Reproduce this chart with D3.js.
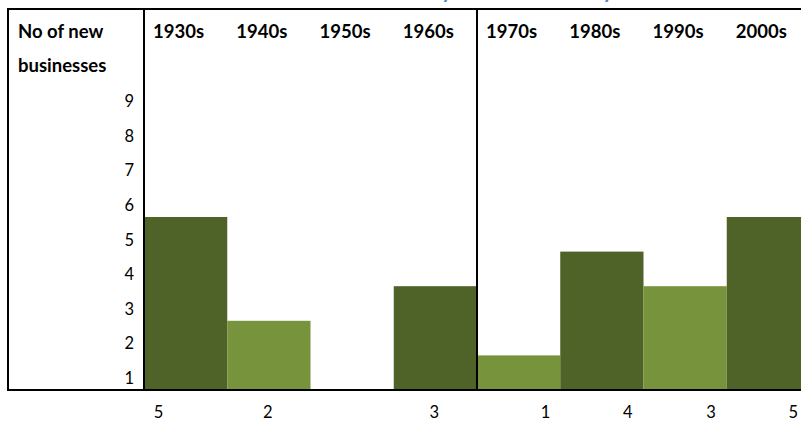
<!DOCTYPE html>
<html>
<head>
<meta charset="utf-8">
<script src="https://cdn.jsdelivr.net/npm/d3@7"></script>
<style>
	body { margin: 0; background: #ffffff; }
	svg { display: block; }
	.text_class_head { font-family: Lato, "Open Sans", sans-serif; font-weight: bold; font-size: 18.5px; fill: #000000; }
	.text_class_tick { font-family: Lato, "Open Sans", sans-serif; font-size: 16.5px; fill: #000000; }
</style>
</head>
<body>
<div id="div_id_main"></div>
<script>

// ---- data ----
let g_vDecades = ["1930s", "1940s", "1950s", "1960s", "1970s", "1980s", "1990s", "2000s"];
let g_vBusinesses = [5, 2, 0, 3, 1, 4, 3, 5];
let g_vRowTicks = [1, 2, 3, 4, 5, 6, 7, 8, 9];
let g_vAxisTitle = ["No of new", "businesses"];
let g_sTitle = "Number of new businesses by decade in the city";

// ---- layout ----
const WIDTH = 801;
const HEIGHT = 421;
const TABLE_LEFT = 8;
const TABLE_TOP = 9;
const PLOT_LEFT = 144;
const PLOT_BOTTOM = 390;
const COL_WIDTH = 83.25;
const ROW_HEIGHT = 34.6;

const COLOR_DARK = "#4F6228";
const COLOR_LIGHT = "#77933C";

// value row under the table is not lined up with the columns
let vLabelShift = [-27, -1, 0, -1, 27, 26, 26, 25];

function funcDraw_Main() {

	let svgMain = d3.select("#div_id_main")
					.append("svg")
						.attr("id", "svg_id_main")
						.attr("width", WIDTH)
						.attr("height", HEIGHT);

	let fScale_X = d3.scaleBand()
						.domain(g_vDecades)
						.range([PLOT_LEFT, PLOT_LEFT + COL_WIDTH * g_vDecades.length])
						.padding(0);

	let fScale_Y = d3.scaleLinear()
						.domain([0, 10])
						.range([PLOT_BOTTOM, PLOT_BOTTOM - ROW_HEIGHT * 10]);

	// title, mostly cut off above the picture
	svgMain.append("text")
				.attr("x", WIDTH / 2)
				.attr("y", -2)
				.attr("text-anchor", "middle")
				.attr("font-family", "Lato, sans-serif")
				.attr("font-weight", "bold")
				.attr("font-size", "20px")
				.attr("fill", "#4F81BD")
				.text(g_sTitle);

	// ---- bars ----
	let nShown = 0;
	let vColor = g_vBusinesses.map(function(v) {
		if (v <= 0) return "none";
		return (nShown++ % 2 == 0) ? COLOR_DARK : COLOR_LIGHT;
	});

	svgMain.append("g")
		.selectAll("rect")
		.data(g_vDecades)
		.enter()
			.append("rect")
				.attr("x", function(d) { return fScale_X(d); })
				.attr("y", function(d, i) { return fScale_Y(g_vBusinesses[i]); })
				.attr("width", fScale_X.bandwidth())
				.attr("height", function(d, i) { return fScale_Y(0) - fScale_Y(g_vBusinesses[i]); })
				.attr("fill", function(d, i) { return vColor[i]; });

	// ---- table lines ----
	let gLines = svgMain.append("g")
						.attr("stroke", "#000000")
						.attr("stroke-width", 2);

	gLines.append("line")
			.attr("x1", TABLE_LEFT).attr("y1", TABLE_TOP)
			.attr("x2", WIDTH).attr("y2", TABLE_TOP);

	gLines.append("line")
			.attr("x1", TABLE_LEFT).attr("y1", fScale_Y(0))
			.attr("x2", WIDTH).attr("y2", fScale_Y(0));

	gLines.append("line")
			.attr("x1", TABLE_LEFT).attr("y1", TABLE_TOP - 1)
			.attr("x2", TABLE_LEFT).attr("y2", fScale_Y(0) + 1);

	gLines.append("line")
			.attr("x1", PLOT_LEFT).attr("y1", TABLE_TOP - 1)
			.attr("x2", PLOT_LEFT).attr("y2", fScale_Y(0) + 1);

	gLines.append("line")
			.attr("x1", fScale_X("1970s")).attr("y1", TABLE_TOP - 1)
			.attr("x2", fScale_X("1970s")).attr("y2", fScale_Y(0) + 1);

	// ---- header row ----
	svgMain.selectAll("text.text_class_decade")
		.data(g_vDecades)
		.enter()
			.append("text")
				.attr("class", "text_class_head text_class_decade")
				.attr("x", function(d) { return fScale_X(d) + 9; })
				.attr("y", 38)
				.text(function(d) { return d; });

	svgMain.selectAll("text.text_class_axis_title")
		.data(g_vAxisTitle)
		.enter()
			.append("text")
				.attr("class", "text_class_head text_class_axis_title")
				.attr("x", 18)
				.attr("y", function(d, i) { return 38 + i * 34; })
				.text(function(d) { return d; });

	// ---- row numbers ----
	svgMain.selectAll("text.text_class_row")
		.data(g_vRowTicks)
		.enter()
			.append("text")
				.attr("class", "text_class_tick text_class_row")
				.attr("x", 134)
				.attr("y", function(d) { return fScale_Y(d - 1) - 6; })
				.attr("text-anchor", "end")
				.text(function(d) { return d; });

	// ---- value row ----
	let vShown = g_vDecades.filter(function(d, i) { return g_vBusinesses[i] > 0; });

	svgMain.selectAll("text.text_class_value")
		.data(vShown)
		.enter()
			.append("text")
				.attr("class", "text_class_tick text_class_value")
				.attr("x", function(d) {
					let i = g_vDecades.indexOf(d);
					return fScale_X(d) + fScale_X.bandwidth() / 2 + vLabelShift[i];
				})
				.attr("y", 418)
				.attr("text-anchor", "middle")
				.text(function(d) { return g_vBusinesses[g_vDecades.indexOf(d)]; });
}

funcDraw_Main();

</script>
</body>
</html>
